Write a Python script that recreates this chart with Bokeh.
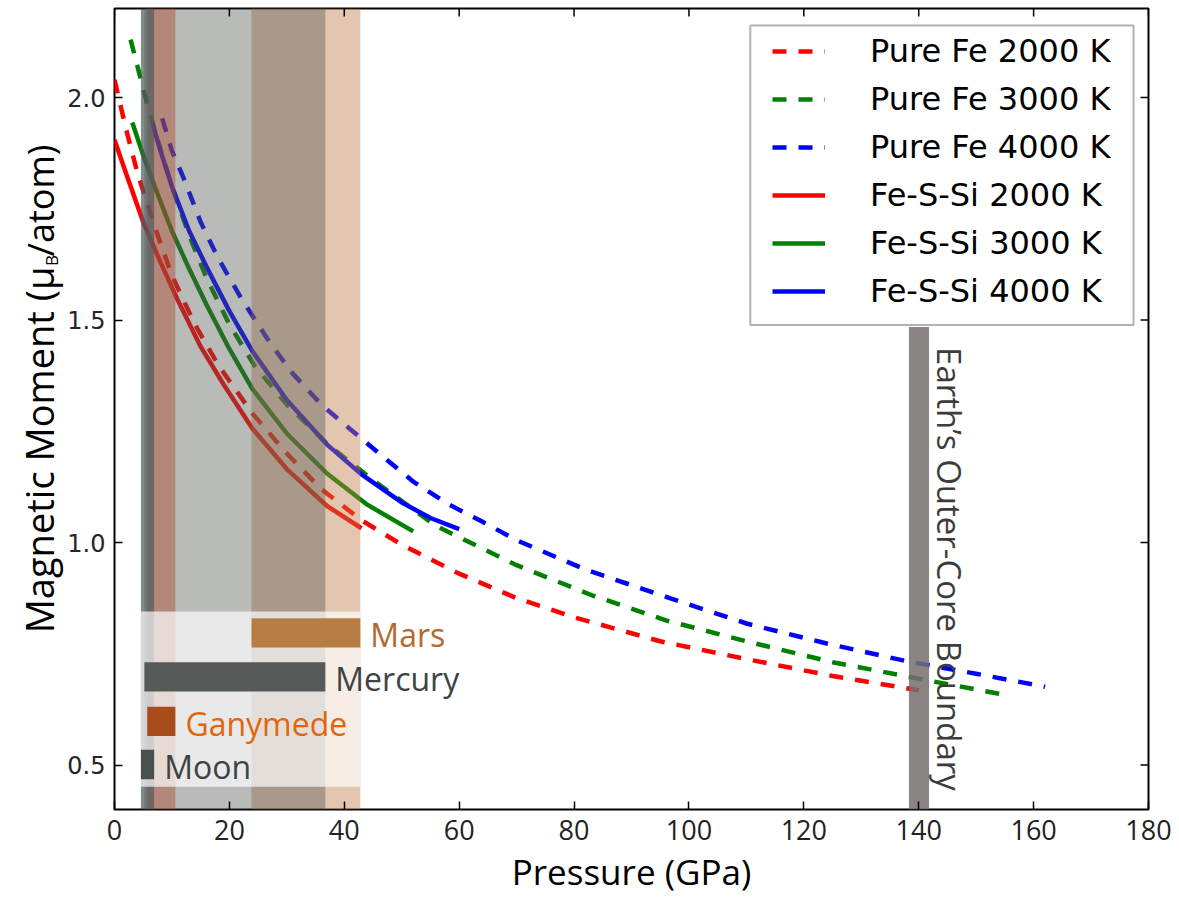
import math

from bokeh.core.properties import value
from bokeh.embed import file_html
from bokeh.layouts import row
from bokeh.models import (BoxAnnotation, ColumnDataSource, FixedTicker, Label,
                          Legend, LegendItem, Range1d)
from bokeh.plotting import figure
from bokeh.resources import INLINE

# ---------------------------------------------------------------- data
# Magnetic moment (mu_B / atom) versus pressure (GPa)
pure_fe_2000_p = [0, 2, 4, 7, 10, 14, 18, 24, 30, 36, 43, 50, 60, 70, 80, 95, 110, 125, 140]
pure_fe_2000_m = [2.04, 1.93, 1.83, 1.71, 1.60, 1.49, 1.40, 1.29, 1.20, 1.12, 1.05, 0.995,
                  0.93, 0.875, 0.832, 0.778, 0.738, 0.700, 0.668]

pure_fe_3000_p = [2.8, 4, 5.5, 7.5, 10, 13, 16, 20, 24.5, 30, 37, 45, 56, 70, 83, 96, 110,
                  125, 140, 154]
pure_fe_3000_m = [2.13, 2.07, 1.995, 1.905, 1.80, 1.69, 1.595, 1.49, 1.395, 1.31, 1.222, 1.14,
                  1.037, 0.949, 0.882, 0.825, 0.778, 0.731, 0.694, 0.660]

pure_fe_4000_p = [8.3, 10, 12, 15, 18, 22, 27, 31, 36, 41, 47, 52, 58, 64, 70, 82, 96, 110,
                  124, 138, 150, 162]
pure_fe_4000_m = [1.953, 1.88, 1.82, 1.72, 1.64, 1.55, 1.45, 1.38, 1.31, 1.255, 1.19, 1.137,
                  1.087, 1.047, 1.005, 0.939, 0.878, 0.818, 0.773, 0.733, 0.705, 0.676]

fessi_2000_p = [0, 2, 5, 8, 11, 15, 19, 24, 30, 37, 43]
fessi_2000_m = [1.905, 1.83, 1.72, 1.63, 1.545, 1.44, 1.355, 1.256, 1.165, 1.082, 1.032]

fessi_3000_p = [3.1, 5, 7, 10, 13, 16, 20, 24, 30, 37, 44, 52]
fessi_3000_m = [1.944, 1.87, 1.80, 1.70, 1.615, 1.535, 1.435, 1.345, 1.245, 1.155, 1.085, 1.025]

fessi_4000_p = [6.6, 8, 10, 13, 16, 20, 24, 30, 37, 43, 50, 55, 60]
fessi_4000_m = [1.942, 1.88, 1.80, 1.70, 1.62, 1.52, 1.43, 1.32, 1.22, 1.153, 1.09, 1.055, 1.03]

series_labels = ["Pure Fe 2000 K", "Pure Fe 3000 K", "Pure Fe 4000 K",
                 "Fe-S-Si 2000 K", "Fe-S-Si 3000 K", "Fe-S-Si 4000 K"]

# Core pressure ranges of small bodies (GPa)
bodies = ["Moon", "Ganymede", "Mercury", "Mars"]
body_p_low = [4.6, 5.7, 5.2, 23.85]
body_p_high = [6.9, 10.6, 36.7, 42.8]

# Earth's outer-core boundary (GPa)
earth_cmb_low = 138.3
earth_cmb_high = 141.8

x_ticks = [0, 20, 40, 60, 80, 100, 120, 140, 160, 180]
y_ticks = [0.5, 1.0, 1.5, 2.0]
y_tick_labels = ["0.5", "1.0", "1.5", "2.0"]

# ---------------------------------------------------------------- geometry / styles
X0, X1 = 0, 180
Y0, Y1 = 0.4, 2.2
W, H = 1179, 897
TW = 64                               # strip holding the vertical axis title
FL, FR, FT, FB = 112, 1148, 8, 810    # frame edges in page pixels


def px_x(px):
    return X0 + (px - FL) / (FR - FL) * (X1 - X0)


def px_y(py):
    return Y0 + (FB - py) / (FB - FT) * (Y1 - Y0)


TICK = 8  # tick length, pixels
tick_dx = TICK / (FR - FL) * (X1 - X0)
tick_dy = TICK / (FB - FT) * (Y1 - Y0)

band_colors = ["#505a5c", "#ac4c2e", "#555b56", "#be7c46"]
band_alphas = [0.70, 0.45, 0.41, 0.43]
bar_colors = ["#4a5050", "#a94c1c", "#555a59", "#b87d44"]
text_colors = ["#3c4347", "#e0660e", "#3c4347", "#b5692e"]
bar_rows = [0.501, 0.598, 0.698, 0.797]
bar_height = 0.066

DASH = "14 12"
LW = 4.5

p = figure(width=W - TW, height=H, x_range=Range1d(X0, X1), y_range=Range1d(Y0, Y1),
           output_backend="svg", toolbar_location=None,
           min_border_left=FL - TW, min_border_right=W - FR,
           min_border_top=FT, min_border_bottom=H - FB,
           background_fill_color="white", border_fill_color="white")
p.xgrid.visible = False
p.ygrid.visible = False
p.outline_line_color = "black"
p.outline_line_width = 2

# ---------------------------------------------------------------- curves
curves = [
    (pure_fe_2000_p, pure_fe_2000_m, "#ff0000", DASH),
    (pure_fe_3000_p, pure_fe_3000_m, "#008000", DASH),
    (pure_fe_4000_p, pure_fe_4000_m, "#0000ff", DASH),
    (fessi_2000_p, fessi_2000_m, "#ff0000", "solid"),
    (fessi_3000_p, fessi_3000_m, "#008000", "solid"),
    (fessi_4000_p, fessi_4000_m, "#0000ff", "solid"),
]
line_renderers = []
for xs, ys, color, dash in curves:
    r = p.line(xs, ys, line_color=color, line_width=LW, line_dash=dash, line_join="round")
    line_renderers.append(r)

# ---------------------------------------------------------------- pressure bands
band_src = ColumnDataSource(dict(
    left=body_p_low[::-1], right=body_p_high[::-1],
    color=band_colors[::-1], alpha=band_alphas[::-1]))
p.quad(left="left", right="right", bottom=Y0, top=Y1, source=band_src,
       fill_color="color", fill_alpha="alpha", line_color=None)

# pale panel behind the body bars
p.quad(left=[min(body_p_low)], right=[max(body_p_high)],
       bottom=[bar_rows[0] - 0.05], top=[bar_rows[-1] + 0.048],
       fill_color="white", fill_alpha=0.68, line_color=None)

bar_src = ColumnDataSource(dict(
    y=bar_rows, left=body_p_low, right=body_p_high, name=bodies,
    bar=bar_colors, txt=text_colors))
p.hbar(y="y", left="left", right="right", height=bar_height, source=bar_src,
       fill_color="bar", line_color=None)
p.text(x="right", y="y", text="name", source=bar_src, x_offset=10, y_offset=2,
       text_baseline="middle", text_align="left", text_color="txt",
       text_font=value("Open Sans"), text_font_size="32px")

# Earth's outer-core boundary
p.quad(left=[earth_cmb_low], right=[earth_cmb_high], bottom=[Y0], top=[px_y(327)],
       fill_color="#756f6f", fill_alpha=0.85, line_color=None)
p.add_layout(Label(x=px_x(949), y=px_y(347), text="Earth\u2019s Outer-Core Boundary",
                   angle=-math.pi / 2, text_align="left", text_baseline="middle",
                   text_font="Open Sans", text_font_size="33px", text_color="#3c3c3c"))

# ---------------------------------------------------------------- axes
for ax in (p.xaxis[0], p.yaxis[0]):
    ax.axis_line_color = None
    ax.major_tick_in = TICK
    ax.major_tick_out = 0
    ax.major_tick_line_color = "black"
    ax.major_tick_line_width = 1.5
    ax.minor_tick_line_color = None

p.xaxis.ticker = FixedTicker(ticks=x_ticks)
p.xaxis.major_label_text_font = "Open Sans"
p.xaxis.major_label_text_font_size = "27px"
p.xaxis.major_label_text_color = "#222222"
p.xaxis.major_label_standoff = 10
p.xaxis.axis_label = "Pressure (GPa)"
p.xaxis.axis_label_text_font = "Open Sans"
p.xaxis.axis_label_text_font_size = "35px"
p.xaxis.axis_label_text_font_style = "normal"
p.xaxis.axis_label_text_color = "black"
p.xaxis.axis_label_standoff = 5

p.yaxis.ticker = FixedTicker(ticks=y_ticks)
p.yaxis.major_label_overrides = {t: s for t, s in zip(y_ticks, y_tick_labels)}
p.yaxis.major_label_text_font = "DejaVu Sans"
p.yaxis.major_label_text_font_size = "24px"
p.yaxis.major_label_text_color = "#262626"
p.yaxis.major_label_standoff = 9

# mirrored ticks on the top and right spines
p.segment(x0=x_ticks, y0=[Y1] * len(x_ticks), x1=x_ticks, y1=[Y1 - tick_dy] * len(x_ticks),
          line_color="black", line_width=1.5)
p.segment(x0=[X1] * len(y_ticks), y0=y_ticks, x1=[X1 - tick_dx] * len(y_ticks), y1=y_ticks,
          line_color="black", line_width=1.5)

# ---------------------------------------------------------------- legend
p.add_layout(BoxAnnotation(left=px_x(749), right=px_x(1133), top=px_y(25), bottom=px_y(325),
                           fill_color="white", fill_alpha=1.0,
                           line_color="black", line_width=2))
legend = Legend(
    items=[LegendItem(label=lab, renderers=[r]) for lab, r in zip(series_labels, line_renderers)],
    location=(770 - FL, FB - (28 + 6 * 48)),
    padding=0, spacing=0, margin=0,
    glyph_width=53, glyph_height=48, label_height=48, label_standoff=45,
    label_text_font="DejaVu Sans", label_text_font_size="32px", label_text_color="black",
    border_line_alpha=0, background_fill_alpha=0)
p.add_layout(legend)

# ---------------------------------------------------------------- vertical axis title
# A narrow strip in page-pixel coordinates (y measured upward from the page bottom),
# so the subscript B can sit beside the mu.
yt = figure(width=TW, height=H, x_range=Range1d(0, TW), y_range=Range1d(0, H),
            output_backend="svg", toolbar_location=None,
            x_axis_location=None, y_axis_location=None,
            min_border_left=0, min_border_right=0, min_border_top=0, min_border_bottom=0,
            background_fill_color="white", border_fill_color="white")
yt.xgrid.visible = False
yt.ygrid.visible = False
yt.outline_line_color = None

title_parts = ["Magnetic Moment (\u03bc", "B", "/atom)"]
yt.text(x=[38.6], y=[H - 289], text=[title_parts[0]], angle=math.pi / 2,
        text_align="right", text_baseline="middle", text_color="black",
        text_font=value("Open Sans"), text_font_size="38px")
yt.text(x=[51.3], y=[H - 288.5], text=[title_parts[1]], angle=math.pi / 2,
        text_align="left", text_baseline="middle", text_color="black",
        text_font=value("Open Sans"), text_font_size="17px")
yt.text(x=[40.0], y=[H - 277.5], text=[title_parts[2]], angle=math.pi / 2,
        text_align="left", text_baseline="middle", text_color="black",
        text_font=value("Open Sans"), text_font_size="36px")

layout = row(yt, p, spacing=0)
open("out.html", "w").write(file_html(layout, INLINE))
